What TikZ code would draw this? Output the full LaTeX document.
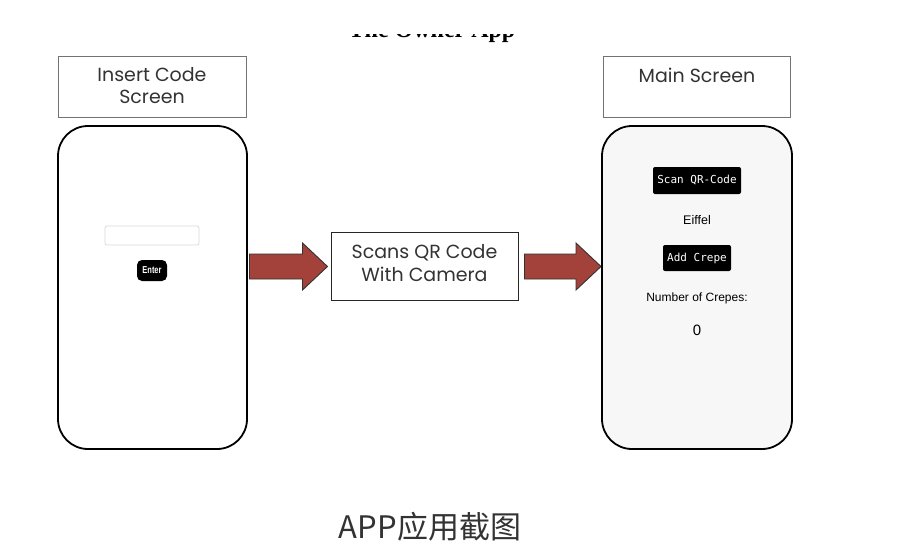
\documentclass[tikz,border=0pt]{standalone}
\usepackage{fontspec}
\setmainfont{Poppins}
\newfontfamily\cjkfont{Noto Sans CJK SC}
\newfontfamily\uifont{Liberation Sans}
\newfontfamily\monofont{DejaVu Sans Mono}
\newfontfamily\titlefont{Liberation Serif}
\usetikzlibrary{calc}
\definecolor{arrowred}{HTML}{A2423A}
\definecolor{txtgray}{HTML}{333333}
\tikzset{
  labelbox/.style={draw=black!55, line width=0.9pt, fill=white},
  phone/.style={draw=black, line width=1.8pt, rounded corners=30pt},
  bigarrow/.style={draw=black!80, line width=0.9pt, fill=arrowred, line join=miter},
  blackbtn/.style={fill=black, rounded corners=2pt, text=white, inner sep=0pt, anchor=center},
  boxtext/.style={align=center, text=txtgray, font=\fontsize{19}{22}\selectfont},
}
\newcommand{\fatarrow}[2]{%
  \path[bigarrow] let \p1=(#1), \p2=(#2) in
    (\x1,\y1-12.5) -- (\x2-25,\y1-12.5) -- (\x2-25,\y1-23.5) -- (\x2,\y1)
    -- (\x2-25,\y1+23.5) -- (\x2-25,\y1+12.5) -- (\x1,\y1+12.5) -- cycle;}
\begin{document}
\begin{tikzpicture}[x=1pt,y=-1pt]
\useasboundingbox (0,0) rectangle (898,560);
\fill[white] (0,0) rectangle (898,560);
% cut-off title
\node[anchor=base, font=\titlefont\bfseries\fontsize{24}{26}\selectfont] (title) at (432,37) {The Owner App};
\fill[white] (0,0) rectangle (898,33.5);
% left
\draw[labelbox] (58,56) rectangle (246,117);
\node[boxtext] (lbl1) at (152,86) {Insert Code\\Screen};
\draw[phone, fill=white] (58,126) rectangle (247,449);
\coordinate (a1s) at (249.5,266.5);
\draw[draw=black!15, fill=white, rounded corners=2pt, line width=0.8pt] (105,226) rectangle (199,245);
\node[blackbtn, minimum width=30pt, minimum height=21pt, rounded corners=5pt, font=\uifont\bfseries\fontsize{10}{11}\selectfont] (enter) at (152,270.5) {\scalebox{0.75}[1]{Enter}};
% middle
\node[draw=black!85, line width=1pt, fill=white, minimum width=187pt, minimum height=68pt, inner sep=0pt] (mid) at (424.5,266) {};
\node[boxtext, font=\fontsize{19}{23}\selectfont] (midtext) at (424.5,263) {Scans QR Code\\With Camera};
\coordinate (a1e) at ($(mid.west)+(-3,0.5)$);
\coordinate (a2s) at ($(mid.east)+(6,0.5)$);
\coordinate (a2e) at (601,266.5);
\fatarrow{a1s}{a1e}
\fatarrow{a2s}{a2e}
% right
\draw[labelbox] (603,56) rectangle (790,117);
\node[boxtext, anchor=base] (lbl2) at (697,82) {Main Screen};
\draw[phone, fill=black!3] (602,126) rectangle (792,449);
\node[blackbtn, minimum width=88pt, minimum height=27pt, font=\monofont\fontsize{11}{12}\selectfont] (scan) at (697,180.5) {Scan QR-Code};
\node[font=\uifont\fontsize{12.5}{14}\selectfont] (eiffel) at (697,220) {Eiffel};
\node[blackbtn, minimum width=68pt, minimum height=26pt, font=\monofont\fontsize{11}{12}\selectfont] (add) at (697,258) {Add Crepe};
\node[font=\uifont\fontsize{12}{14}\selectfont] (num) at (697,298) {Number of Crepes:};
\node[font=\uifont\fontsize{15}{17}\selectfont] (zero) at (697,330) {0};
% caption
\node[text=txtgray, font=\cjkfont\fontsize{31}{34}\selectfont] (cap) at (430,527) {APP应用截图};
\end{tikzpicture}
\end{document}
